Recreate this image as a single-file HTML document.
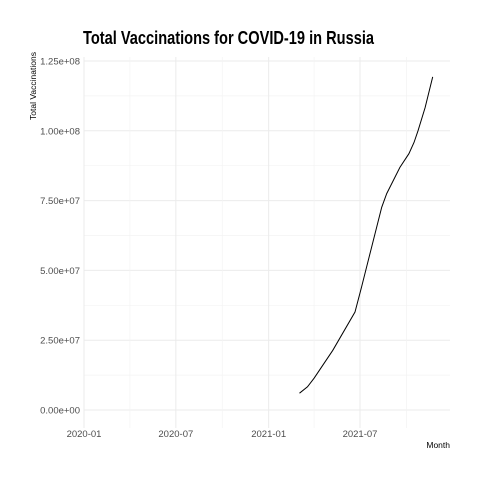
<!DOCTYPE html>
<html><head><meta charset="utf-8"><style>
body{margin:0;background:#fff;font-family:"Liberation Sans",sans-serif}
svg text{font-family:"Liberation Sans",sans-serif}
</style></head><body>
<svg width="480" height="480">
<text x="83" y="44" font-size="18" font-weight="bold" fill="#000" textLength="291" lengthAdjust="spacingAndGlyphs">Total Vaccinations for COVID-19 in Russia</text>
<g id="grid"></g>
<g id="yticks"></g>
<g id="xticks"></g>
<text transform="translate(36,86) rotate(-90)" text-anchor="middle" font-size="8.5" fill="#000">Total Vaccinations</text>
<text x="450" y="448" text-anchor="end" font-size="8.5" fill="#000">Month</text>
<path id="line" fill="none" stroke="#000" stroke-width="1"/>
</svg>
<script>
const dates=["2021-03-03","2021-03-19","2021-04-01","2021-05-08","2021-06-21","2021-07-04","2021-07-24","2021-08-13","2021-08-23","2021-09-18","2021-10-06","2021-10-16","2021-10-24","2021-11-07","2021-11-22"];
const values=[6.0e6,8.3e6,11.4e6,21.4e6,35.1e6,44.0e6,58.3e6,72.6e6,77.5e6,86.9e6,91.8e6,95.8e6,100e6,108.3e6,119.3e6];
const yTicks=[0,2.5e7,5e7,7.5e7,1e8,1.25e8];
const yTickLabels=["0.00e+00","2.50e+07","5.00e+07","7.50e+07","1.00e+08","1.25e+08"];
const xTicks=["2020-01-01","2020-07-01","2021-01-01","2021-07-01"];
const xTickLabels=["2020-01","2020-07","2021-01","2021-07"];
const xMinor=["2020-04-01","2020-10-01","2021-04-01","2021-10-01"];
const ns="http://www.w3.org/2000/svg";
const t0=Date.parse("2020-01-01"),t1=Date.parse("2021-07-01");
function X(d){return 84+(Date.parse(d)-t0)/(t1-t0)*276;}
function Y(v){return 410-v/1.25e8*349;}
const L=84,R=450,T=57,B=428;
function el(tag,attrs,parent){const e=document.createElementNS(ns,tag);for(const k in attrs)e.setAttribute(k,attrs[k]);parent.appendChild(e);return e;}
const grid=document.getElementById('grid'),yg=document.getElementById('yticks'),xg=document.getElementById('xticks');
for(let i=0;i<yTicks.length;i++){
 const y=Y(yTicks[i]);
 const g=el('line',{x1:L,x2:R,y1:y,y2:y,stroke:'#ebebeb','stroke-width':1},grid);
 
 
 if(i<yTicks.length-1){const ym=Y((yTicks[i]+yTicks[i+1])/2);
  const m=el('line',{x1:L,x2:R,y1:ym,y2:ym,stroke:'#f3f3f3','stroke-width':0.7},grid);
  
  }
 const t=el('text',{x:80,y:y+3.5,'text-anchor':'end','font-size':9.5,fill:'#4d4d4d'},yg);
 t.textContent=yTickLabels[i];
 
 
}
{const ym=Y(-1.25e7/2*1);}
for(let i=0;i<xTicks.length;i++){
 const x=X(xTicks[i]);
 const g=el('line',{x1:x,x2:x,y1:T,y2:B,stroke:'#ebebeb','stroke-width':1},grid);
 
 
 const t=el('text',{x:x,y:437,'text-anchor':'middle','font-size':9.5,fill:'#4d4d4d'},xg);
 t.textContent=xTickLabels[i];
 
 
}
for(const d of xMinor){const x=X(d);
 const m=el('line',{x1:x,x2:x,y1:T,y2:B,stroke:'#f3f3f3','stroke-width':0.7},grid);
 
 }
let p='';
for(let i=0;i<dates.length;i++){p+=(i?'L':'M')+X(dates[i]).toFixed(1)+','+Y(values[i]).toFixed(1);}
document.getElementById('line').setAttribute('d',p);
</script>
</body></html>
